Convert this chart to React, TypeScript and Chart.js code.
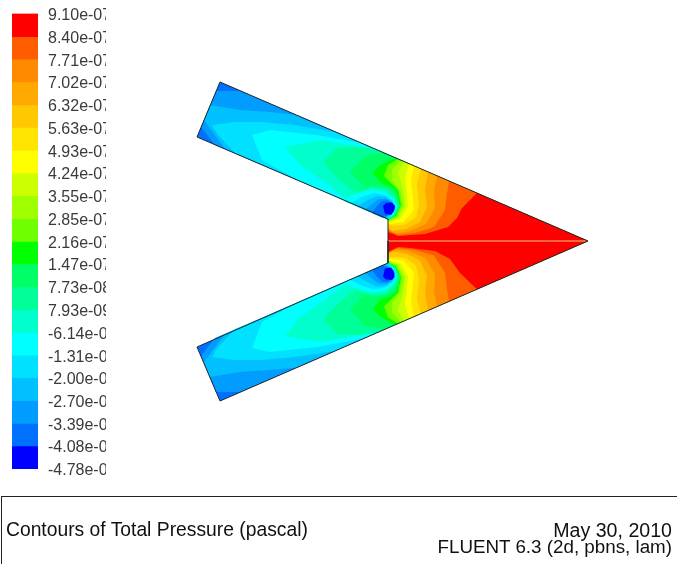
import { useEffect, useRef } from "react";
import { Chart, registerables } from "chart.js";

Chart.register(...registerables);

// Colour map levels (unit 1e-7 Pa) and their labels
const levelValues = [9.1, 8.4, 7.71, 7.02, 6.32, 5.63, 4.93, 4.24, 3.55, 2.85, 2.16, 1.47, 0.773, 0.0793, -0.614, -1.31, -2.0, -2.7, -3.39, -4.08, -4.78];
const levelLabels = ["9.10e-07", "8.40e-07", "7.71e-07", "7.02e-07", "6.32e-07", "5.63e-07", "4.93e-07", "4.24e-07", "3.55e-07", "2.85e-07", "2.16e-07", "1.47e-07", "7.73e-08", "7.93e-09", "-6.14e-08", "-1.31e-07", "-2.00e-07", "-2.70e-07", "-3.39e-07", "-4.08e-07", "-4.78e-07"];
const bandColours = ["#ff0000", "#ff5c00", "#ff8a00", "#ffa800", "#ffc800", "#ffe400", "#ffff00", "#ccff00", "#a0ff00", "#70ff00", "#00ff00", "#00ff66", "#00ff99", "#00ffcc", "#00ffff", "#00e0ff", "#00c0ff", "#009cff", "#0070ff", "#0000ff"];

// Upper half of the domain: contour regions as x,y pairs
const upBase = [220, 82, 588, 241, 388, 241, 388, 219, 197, 137];
const up17 = [216, 91, 240, 91, 588, 241, 388, 241, 388, 219, 250, 160, 215, 145, 201, 127];
const up16 = [210, 105, 240, 110, 270, 112, 297, 115, 588, 241, 388, 241, 388, 219, 250, 160, 225, 149, 204, 120];
const up15 = [212, 125, 235, 122, 262, 122, 295, 125, 335, 132, 588, 241, 388, 241, 388, 219, 262, 165, 235, 153, 218, 135];
const up14 = [252, 135, 270, 130, 317, 135, 345, 140, 362, 143, 588, 241, 388, 241, 388, 219, 300, 181, 262, 160];
const up13 = [285, 147, 320, 140, 350, 145, 372, 148, 588, 241, 388, 241, 388, 219, 345, 198, 322, 180, 300, 165];
const up12 = [323, 162, 337, 148, 360, 147, 379, 151, 588, 241, 388, 241, 388, 219, 352, 190, 337, 178];
const up11 = [350, 172, 365, 156, 385, 153, 588, 241, 388, 241, 388, 219, 372, 190, 360, 183];
const up10 = [373, 173, 380, 165, 395, 158, 588, 241, 388, 241, 388, 220, 395, 216, 400, 205, 396, 190, 380, 182];
const up9 = [384, 176, 388, 165, 398, 159, 588, 241, 388, 241, 388, 220.5, 396, 216, 401, 205, 398, 190, 390, 182];
const up8 = [392, 180, 392, 170, 401, 160, 588, 241, 388, 241, 388, 221, 397, 217, 403, 205, 400, 190];
const up7 = [404, 161.5, 398, 172, 403, 190, 405, 205, 398, 218, 388, 222];
const up6 = [409, 164, 405, 178, 407, 195, 408, 206, 400, 219, 388, 223];
const up5 = [414, 166, 411, 180, 413, 200, 414, 210, 404, 222, 388, 224];
const up4 = [421, 169, 417, 183, 419, 204, 416, 217, 405, 225, 388, 225.5];
const up3 = [428, 172, 425, 190, 427, 207, 420, 222, 406, 229, 392, 231, 388, 227];
const up2 = [437, 176, 434, 190, 435, 208, 426, 224, 410, 231, 394, 234, 388, 228.5];
const up1 = [449, 181, 447, 193, 445, 210, 434, 227, 415, 233, 398, 235, 388, 230];
const up0 = [477, 193, 462, 208, 457, 218, 448, 227, 425, 234, 398, 236, 388, 232];
const upTip = [388, 241, 588, 241];
const upR11 = [348, 202.6, 360, 188, 375, 183, 390, 186, 398, 196, 400, 206, 396, 215, 388, 220];
const upR12 = [346, 201.7, 358, 190, 373, 186, 388, 188, 396, 197, 399, 206, 395, 215, 388, 219.5];
const upR13 = [344, 201, 357, 192, 372, 188, 386, 190, 395, 198, 398, 206, 394, 214, 388, 219];
const upR14 = [342, 200, 356, 194, 372, 190, 385, 192, 393, 199, 397, 207, 393, 214, 388, 219];
const upR15 = [350, 203.5, 362, 197, 374, 193, 385, 195, 392, 200, 396, 207, 392, 214, 388, 219];
const upR16 = [357, 206.5, 368, 200, 377, 196, 386, 197, 392, 201, 395, 207, 391, 214, 386, 218.5];
const upR17 = [365, 210, 372, 204, 379, 199, 387, 199, 392, 203, 395, 208, 391, 214, 384, 218];
const upR18 = [372, 213, 377, 206, 382, 201, 388, 200.5, 393, 204, 395, 209, 391, 214, 382, 217.4];
const upR19 = [383, 206, 386, 203, 392, 202.5, 395, 206, 394, 211, 391, 215, 385, 214];

// Lower half of the domain
const lowBase = [220, 401, 588, 241, 388, 241, 388, 263, 197, 347];
const low17 = [216, 392, 240, 392, 588, 241, 388, 241, 388, 263, 250, 323, 215, 338, 201, 356];
const low16 = [210, 377, 240, 372, 270, 370, 297, 367.5, 588, 241, 388, 241, 388, 263, 250, 323, 225, 334, 204, 362];
const low15 = [212, 357, 235, 360, 262, 360, 295, 357, 335, 351, 588, 241, 388, 241, 388, 263, 262, 318, 235, 329, 218, 347];
const low14 = [252, 348, 270, 352, 317, 347, 345, 342, 362, 339, 588, 241, 388, 241, 388, 263, 300, 301, 262, 322];
const low13 = [285, 336, 320, 342, 350, 337, 372, 333, 588, 241, 388, 241, 388, 263, 345, 284, 322, 302, 300, 317];
const low12 = [323, 320, 337, 334, 360, 335, 379, 332, 588, 241, 388, 241, 388, 263, 352, 292, 337, 304];
const low11 = [350, 310, 365, 326, 385, 329, 588, 241, 388, 241, 388, 263, 372, 292, 360, 299];
const low10 = [373, 309, 380, 317, 395, 325, 588, 241, 388, 241, 388, 262.5, 395, 266.5, 400, 277.5, 396, 292.5, 380, 300];
const low9 = [384, 306.5, 388, 317.5, 398, 323.6, 588, 241, 388, 241, 388, 262, 396, 266.5, 401, 277.5, 398, 292.5, 390, 300.5];
const low8 = [392, 302.5, 392, 312.5, 401, 322.3, 588, 241, 388, 241, 388, 261.5, 397, 265.5, 403, 277.5, 400, 292.5];
const low7 = [404, 321, 398, 310.5, 403, 292.5, 405, 277.5, 398, 264.5, 388, 261];
const low6 = [409, 318.8, 405, 304.5, 407, 287.5, 408, 276.5, 400, 263.5, 388, 260];
const low5 = [414, 316.6, 411, 302.5, 413, 282.5, 414, 272.5, 404, 260.5, 388, 258.5];
const low4 = [421, 313.6, 417, 299.5, 419, 278.5, 416, 265.5, 405, 257.5, 388, 257];
const low3 = [428, 310.6, 425, 292.5, 427, 275.5, 420, 260.5, 406, 253.5, 392, 251.5, 388, 255.5];
const low2 = [437, 306.6, 434, 292.5, 435, 274.5, 426, 258.5, 410, 251.5, 394, 249, 388, 254];
const low1 = [449, 301.4, 447, 289.5, 445, 272.5, 434, 255.5, 415, 250, 398, 248, 388, 253];
const low0 = [477, 289.3, 460, 273, 450, 259, 435, 251, 410, 248, 398, 247, 388, 252];
const lowTip = [388, 241, 588, 241];
const lowR11 = [348, 280.6, 360, 294.5, 375, 299.5, 390, 296.5, 398, 286.5, 400, 276.5, 396, 267.5, 388, 262.5];
const lowR12 = [346, 281.5, 358, 292.5, 373, 296.5, 388, 294.5, 396, 285.5, 399, 276.5, 395, 267.5, 388, 263];
const lowR13 = [344, 282.3, 357, 290.5, 372, 294.5, 386, 292.5, 395, 284.5, 398, 276.5, 394, 268.5, 388, 263];
const lowR14 = [342, 283.2, 356, 288.5, 372, 292.5, 385, 290.5, 393, 283.5, 397, 275.5, 393, 268.5, 388, 263];
const lowR15 = [350, 279.7, 362, 285.5, 374, 289.5, 385, 287.5, 392, 282.5, 396, 275.5, 392, 268.5, 388, 263];
const lowR16 = [357, 276.6, 368, 282.5, 377, 286.5, 386, 285.5, 392, 281.5, 395, 275.5, 391, 268.5, 386, 264];
const lowR17 = [365, 273, 372, 278.5, 379, 283.5, 387, 283.5, 392, 279.5, 395, 274.5, 391, 268.5, 384, 264.8];
const lowR18 = [372, 270, 377, 276.5, 382, 281.5, 388, 282, 393, 278.5, 395, 273.5, 391, 268.5, 382, 265.6];
const lowR19 = [383, 276.5, 386, 279.5, 392, 280, 395, 276.5, 394, 271.5, 391, 267.5, 385, 268.5];

// Mesh boundary and the centre line
const upOutline = [388, 241, 388, 219, 197, 137, 220, 82, 588, 241];
const lowOutline = [388, 241, 388, 263, 197, 347, 220, 401, 588, 241];
const centreLine = [388, 241, 588, 241];

const footerLeft = "Contours of Total Pressure (pascal)";
const footerDate = "May 30, 2010";
const footerSolver = "FLUENT 6.3 (2d, pbns, lam)";

const toPoints = (flat: number[]) => {
  const out: { x: number; y: number }[] = [];
  for (let i = 0; i < flat.length; i += 2) out.push({ x: flat[i], y: flat[i + 1] });
  return out;
};

// Bands painted from lowest to highest pressure, then the low-pressure eddy rings
const paintLayers: [number, number[]][] = [
  [18, upBase], [17, up17], [16, up16], [15, up15], [14, up14], [13, up13], [12, up12], [11, up11], [10, up10], [9, up9], [8, up8],
  [7, [...up7, ...upTip]], [6, [...up6, ...upTip]], [5, [...up5, ...upTip]], [4, [...up4, ...upTip]], [3, [...up3, ...upTip]], [2, [...up2, ...upTip]], [1, [...up1, ...upTip]], [0, [...up0, ...upTip]],
  [11, upR11], [12, upR12], [13, upR13], [14, upR14], [15, upR15], [16, upR16], [17, upR17], [18, upR18], [19, upR19],
  [18, lowBase], [17, low17], [16, low16], [15, low15], [14, low14], [13, low13], [12, low12], [11, low11], [10, low10], [9, low9], [8, low8],
  [7, [...low7, ...lowTip]], [6, [...low6, ...lowTip]], [5, [...low5, ...lowTip]], [4, [...low4, ...lowTip]], [3, [...low3, ...lowTip]], [2, [...low2, ...lowTip]], [1, [...low1, ...lowTip]], [0, [...low0, ...lowTip]],
  [11, lowR11], [12, lowR12], [13, lowR13], [14, lowR14], [15, lowR15], [16, lowR16], [17, lowR17], [18, lowR18], [19, lowR19],
];

export default function App() {
  const fieldRef = useRef<HTMLCanvasElement>(null);
  const barRef = useRef<HTMLCanvasElement>(null);

  useEffect(() => {
    const fillSets = paintLayers.map(([band, flat]) => ({
      data: toPoints(flat),
      showLine: true,
      fill: "shape",
      tension: 0,
      pointRadius: 0,
      borderWidth: 0,
      backgroundColor: bandColours[band],
      borderColor: bandColours[band],
    }));
    const lineSet = (flat: number[], colour: string) => ({
      data: toPoints(flat),
      showLine: true,
      fill: false,
      tension: 0,
      pointRadius: 0,
      borderWidth: 1,
      borderColor: colour,
    });
    const field = new Chart(fieldRef.current!, {
      type: "scatter",
      data: {
        datasets: [
          ...fillSets,
          lineSet(centreLine, "#f7c97a"),
          lineSet(upOutline, "#26262e"),
          lineSet(lowOutline, "#26262e"),
        ].reverse() as any,
      },
      options: {
        animation: false,
        responsive: false,
        layout: { padding: 0 },
        plugins: { legend: { display: false }, tooltip: { enabled: false } },
        events: [],
        scales: {
          x: { type: "linear", min: 0, max: 677, display: false },
          y: { type: "linear", min: 0, max: 564, reverse: true, display: false },
        },
      },
    });

    const colourBar = new Chart(barRef.current!, {
      type: "bar",
      data: {
        labels: ["levels"],
        datasets: bandColours.map((colour, i) => ({
          data: [[levelValues[i + 1], levelValues[i]]],
          backgroundColor: colour,
          barPercentage: 1,
          categoryPercentage: 1,
          borderWidth: 0,
        })) as any,
      },
      options: {
        animation: false,
        responsive: false,
        layout: { padding: { left: 12, top: 7, bottom: 20, right: 0 } },
        plugins: { legend: { display: false }, tooltip: { enabled: false } },
        events: [],
        scales: {
          x: { stacked: true, display: false },
          y: {
            type: "linear",
            position: "right",
            min: -4.78,
            max: 9.1,
            grid: { display: false, drawTicks: false },
            border: { display: false },
            afterBuildTicks: (scale: any) => {
              scale.ticks = levelValues.map((value) => ({ value }));
            },
            afterFit: (scale: any) => {
              scale.width = 68;
            },
            ticks: {
              autoSkip: false,
              padding: 10,
              crossAlign: "near",
              labelOffset: 2,
              color: "#3a3a3a",
              font: { family: "'Liberation Sans'", size: 16 },
              callback: (value: any) => levelLabels[levelValues.indexOf(value)],
            },
          },
        },
      },
    } as any);

    return () => {
      field.destroy();
      colourBar.destroy();
    };
  }, []);

  const footerFont = { fontFamily: "'Liberation Sans'", color: "#111", lineHeight: "17px", whiteSpace: "nowrap" as const };

  return (
    <div style={{ position: "absolute", left: 0, top: 0, width: 677, height: 564, overflow: "hidden", background: "#fff" }}>
      <canvas ref={fieldRef} width={677} height={564} style={{ position: "absolute", left: 0, top: 0, display: "block", filter: "blur(0.6px)" }} />
      <canvas ref={barRef} width={106} height={495} style={{ position: "absolute", left: 0, top: -6, display: "block" }} />
      <div style={{ position: "absolute", left: 1, top: 496, width: 676, height: 68, borderTop: "1px solid #222", borderLeft: "1px solid #222", boxSizing: "border-box" }} />
      <div style={{ position: "absolute", left: 6, top: 521, fontSize: 19.3, ...footerFont }}>{footerLeft}</div>
      <div style={{ position: "absolute", right: 5, top: 522, textAlign: "right", ...footerFont }}>
        <div style={{ lineHeight: "16px", fontSize: 19.6 }}>{footerDate}</div>
        <div style={{ lineHeight: "16px", fontSize: 18.8, marginTop: 1 }}>{footerSolver}</div>
      </div>
    </div>
  );
}
